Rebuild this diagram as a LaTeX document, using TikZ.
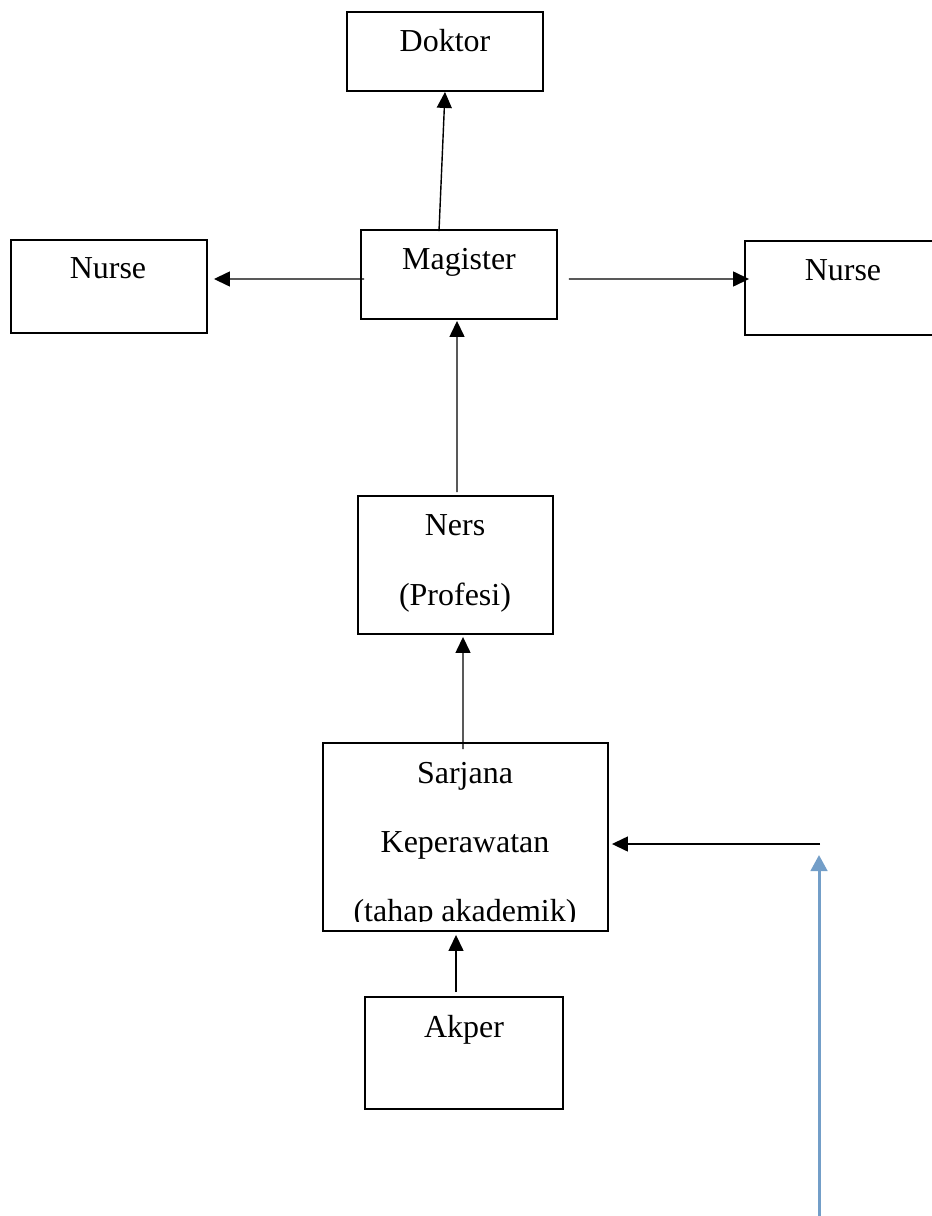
\documentclass[tikz,border=0pt]{standalone}
\usepackage{fontspec}
\setmainfont{Liberation Serif}
\usetikzlibrary{arrows.meta,calc}
\definecolor{birumuda}{RGB}{115,158,200}
\newcommand{\tx}{\fontsize{18.2pt}{22pt}\selectfont}

\begin{document}
\begin{tikzpicture}[x=0.02cm,y=-0.02cm,
    kotak/.style={draw,line width=1.1pt,inner sep=0pt},
    teks/.style={anchor=base,inner sep=0pt,font=\tx},
    panah/.style={line width=0.8pt,-{Triangle[length=0.32cm,width=0.3cm]}},
    panahbiru/.style={draw=birumuda,line width=1.7pt,-{Triangle[length=0.32cm,width=0.33cm]},birumuda}]
  \useasboundingbox (0,0) rectangle (931,1216);
  \node[kotak,minimum width=3.92cm,minimum height=1.58cm] (doktor)  at (445,  51.5) {};
  \node[kotak,minimum width=3.92cm,minimum height=1.78cm] (magister) at (459, 274.5) {};
  \node[kotak,minimum width=3.92cm,minimum height=1.86cm] (nurseL)  at (109, 286.5) {};
  \node[kotak,minimum width=3.92cm,minimum height=1.88cm] (nurseR)  at (843, 288  ) {};
  \node[kotak,minimum width=3.90cm,minimum height=2.76cm] (ners)    at (455.5,565 ) {};
  \node[kotak,minimum width=5.70cm,minimum height=3.76cm] (sarjana) at (465.5,837 ) {};
  \node[kotak,minimum width=3.96cm,minimum height=2.24cm] (akper)   at (464,1053  ) {};
  \node[teks] (t-doktor)   at (445,  52) {Doktor};
  \node[teks] (t-magister) at (459, 270) {Magister};
  \node[teks] (t-nurseL)   at (108, 279) {Nurse};
  \node[teks] (t-nurseR)   at (843, 281) {Nurse};
  \node[teks] (t-ners)     at (455, 535) {Ners};
  \node[teks] (t-profesi)  at (455, 605) {(Profesi)};
  \node[teks] (t-sarjana)  at (465, 783) {Sarjana};
  \node[teks] (t-kep)      at (465, 852) {Keperawatan};
  \begin{scope}
    \clip (323,743) rectangle (608,921);
    \node[teks] (t-tahap)  at (465, 921) {(tahap akademik)};
  \end{scope}
  \node[teks] (t-akper)    at (464,1037) {Akper};
  \coordinate (belok)      at (820, 844);
  \coordinate (birubawah)  at (819,1216);
  \coordinate (biruatas)   at (819, 855);
  \draw[panah] ($(magister.north)+(-20,  2  )$) -- (doktor.south);
  \draw[panah] ($(magister.west) +(  4,  4.5)$) -- ($(nurseL.east)+( 6,-7.5)$);
  \draw[panah] ($(magister.east) +( 11,  4.5)$) -- ($(nurseR.west)+( 5,-9  )$);
  \draw[panah] ($(ners.north)    +(1.5, -3  )$) -- ($(magister.south)+(-2,1)$);
  \draw[panah] ($(sarjana.north) +(-2.5, 7  )$) -- ($(ners.south)+(7.5,2)$);
  \draw[panah] ($(akper.north)   +( -8, -4  )$) -- ($(sarjana.south)+(-9.5,3)$);
  \draw[panah] (belok) -- ($(sarjana.east)+(3,7)$);
  \draw[panahbiru] (birubawah) -- (biruatas);
\end{tikzpicture}
\end{document}
